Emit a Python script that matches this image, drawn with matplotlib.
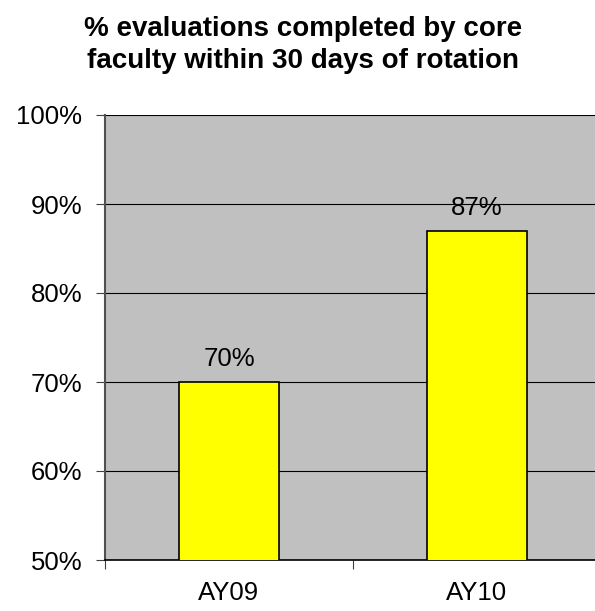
import matplotlib
matplotlib.use("Agg")
import matplotlib.pyplot as plt
from matplotlib.ticker import FixedLocator, NullFormatter

plt.rcParams['font.family'] = ['Liberation Sans', 'DejaVu Sans']

categories = ["AY09", "AY10"]
values = [70, 87]
y_ticks = [50, 60, 70, 80, 90, 100]
y_tick_labels = ["50%", "60%", "70%", "80%", "90%", "100%"]
title = "% evaluations completed by core\nfaculty within 30 days of rotation"

W, H = 595, 611
fig = plt.figure(figsize=(W / 100, H / 100), dpi=100)
ax = fig.add_axes([105 / W, (H - 560) / H, 496 / W, 445 / H])
ax.set_facecolor("#C0C0C0")

x = list(range(len(categories)))
bars = ax.bar(x, values, width=0.4, color="#FFFF00", edgecolor="black",
              linewidth=1.2, zorder=3, bottom=0)

ax.set_xlim(-0.5, len(categories) - 0.5)
ax.set_ylim(50, 100)

ax.set_yticks(y_ticks)
ax.set_yticklabels(y_tick_labels, fontsize=18.5)
ax.yaxis.grid(True, color="black", linewidth=0.8, zorder=1)
ax.xaxis.grid(False)
ax.tick_params(axis="y", direction="out", length=6.5, width=0.8,
               color="#404040", pad=10)

# category boundaries as major ticks, labels on minor ticks at centres
ax.xaxis.set_major_locator(FixedLocator([i - 0.5 for i in range(len(categories) + 1)]))
ax.xaxis.set_major_formatter(NullFormatter())
ax.xaxis.set_minor_locator(FixedLocator(x))
ax.set_xticklabels(categories, minor=True, fontsize=18.5)
ax.tick_params(axis="x", which="major", direction="out", length=6.5,
               width=0.8, color="#404040")
ax.tick_params(axis="x", which="minor", length=0, pad=15)

for side in ("top", "right"):
    ax.spines[side].set_visible(False)
ax.spines["left"].set_color("#505050")
ax.spines["left"].set_linewidth(1.5)
ax.spines["bottom"].set_color("black")
ax.spines["bottom"].set_linewidth(1.2)
ax.set_axisbelow(True)

for xi, v in zip(x, values):
    ax.annotate(f"{v}%", (xi, v), xytext=(0, 11.5), textcoords="offset points",
                ha="center", va="baseline", fontsize=18.5, zorder=4)

fig.text(303 / W, 1 - 16 / H, title, ha="center", va="top",
         fontsize=20, fontweight="bold", linespacing=1.3)

fig.savefig("out.png", dpi=100)
